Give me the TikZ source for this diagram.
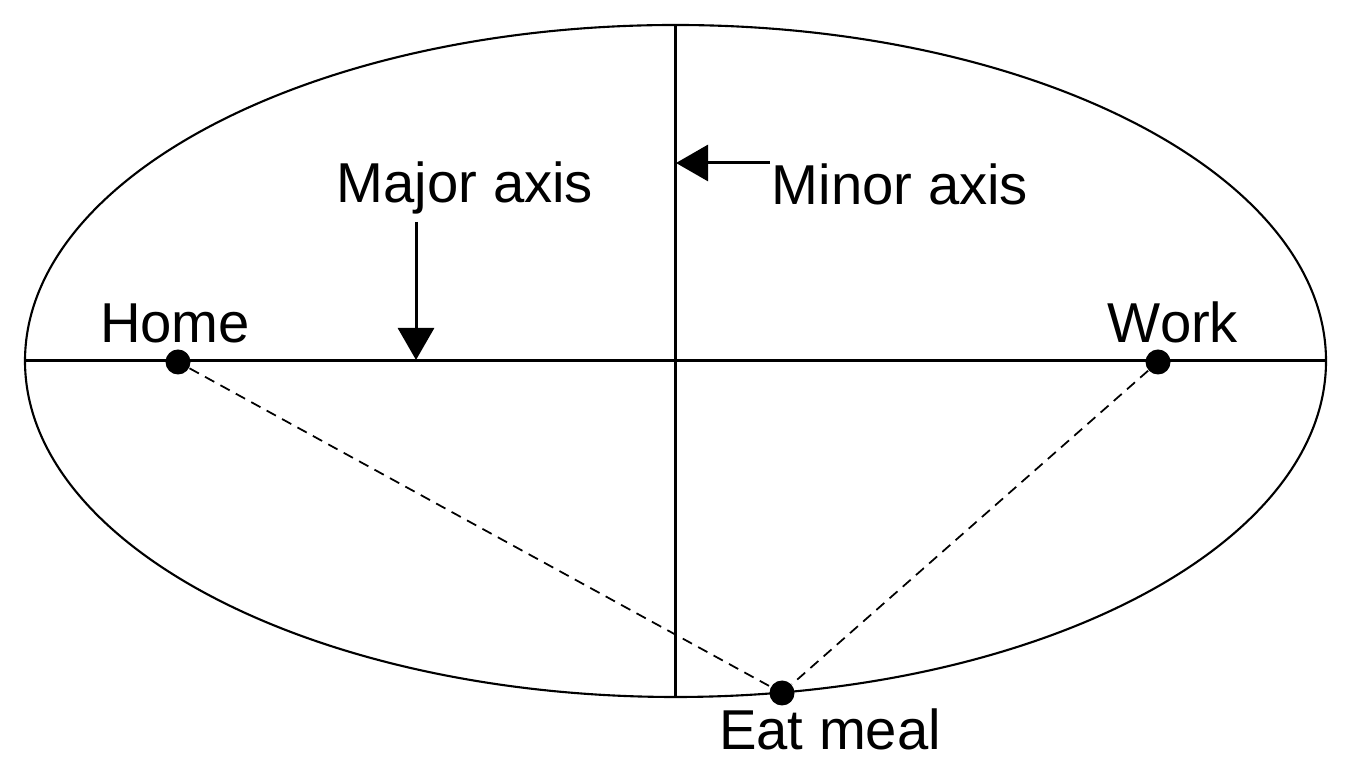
\documentclass[tikz,border=0pt]{standalone}
\usepackage{fontspec}
\setmainfont{Liberation Sans}
\usepackage{tikz}
\usetikzlibrary{positioning,arrows.meta}
\tikzset{
    place/.style={circle,fill=black,minimum size=2.5mm,inner sep=0pt},
    lbl/.style={font=\fontsize{16}{19}\selectfont,anchor=base,inner sep=0pt},
    axis/.style={line width=0.85pt},
    trip/.style={densely dashed,line width=0.5pt},
    pointer/.style={-{Triangle[length=3.2mm,width=3.6mm]},line width=0.85pt},
}
\begin{document}
\begin{tikzpicture}
\useasboundingbox (0,0) rectangle (13.46,7.80);
% Ellipse with its two axes
\draw[line width=0.6pt] (6.755,4.19) ellipse [x radius=6.505,y radius=3.36];
\coordinate (left)   at (0.25,4.19);
\coordinate (right)  at (13.26,4.19);
\coordinate (top)    at (6.75,7.55);
\coordinate (bottom) at (6.75,0.83);
\draw[axis] (left) -- (right);
\draw[axis] (top) -- (bottom);

\node[place] (home) at (1.78,4.18) {};
\node[place] (work) at (11.58,4.18) {};
\node[place] (meal) at (7.82,0.87) {};
\draw[trip] (home) -- (meal);
\draw[trip] (work) -- (meal);

\node[lbl] (homelbl)  at (1.75,4.37)  {Home};
\node[lbl] (worklbl)  at (11.73,4.37) {Work};
\node[lbl] (meallbl)  at (8.30,0.30)  {Eat meal};
\node[lbl] (majorlbl) at (4.65,5.77)  {Major axis};
\node[lbl] (minorlbl) at (9.00,5.75)  {Minor axis};

\coordinate (majtail) at (4.16,5.58);
\coordinate (majtip)  at (4.16,4.20);
\coordinate (mintail) at (7.70,6.17);
\coordinate (mintip)  at (6.76,6.17);
\draw[pointer] (majtail) -- (majtip);
\draw[pointer] (mintail) -- (mintip);
\end{tikzpicture}
\end{document}
